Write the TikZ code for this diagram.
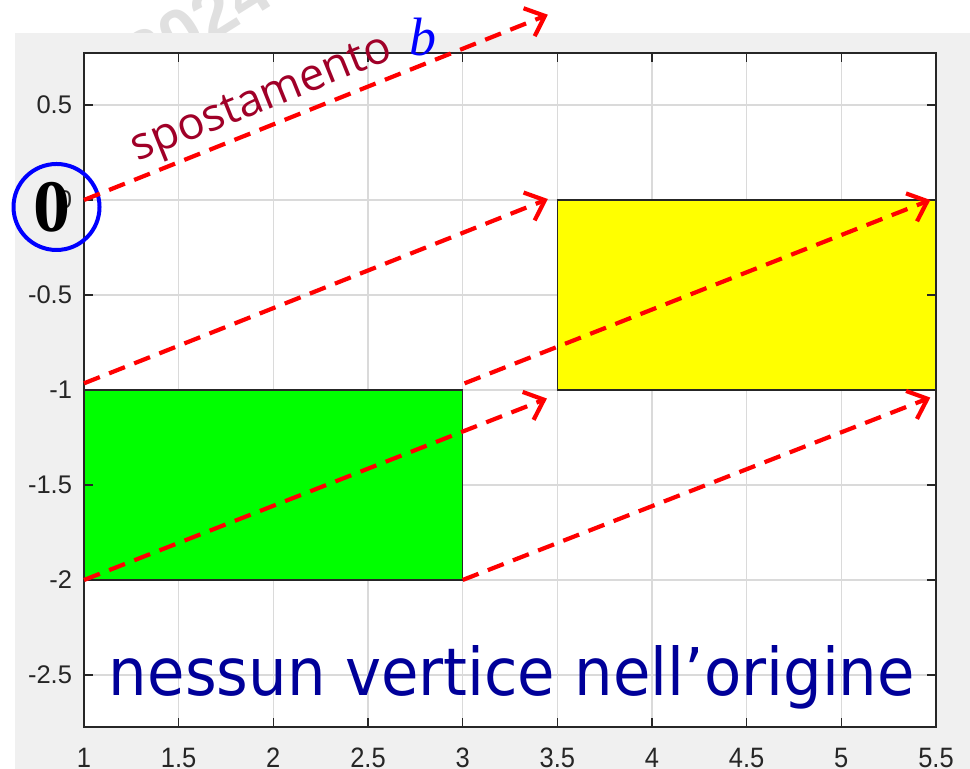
\documentclass[tikz,border=0pt]{standalone}
\usepackage{fontspec}
\usepackage{graphicx}
\usetikzlibrary{arrows.meta}
\newfontfamily\tickfont{Liberation Sans}
\newfontfamily\shiftfont{Open Sans}
\newfontfamily\notefont{DejaVu Sans}
\newfontfamily\zerofont{Liberation Serif}
\definecolor{figgray}{RGB}{240,240,240}
\definecolor{gridgray}{RGB}{218,218,218}
\definecolor{axisgray}{RGB}{38,38,38}
\definecolor{shiftred}{RGB}{160,0,40}
\definecolor{noteblue}{RGB}{0,0,153}
\definecolor{patchgreen}{RGB}{0,255,0}
\definecolor{patchyellow}{RGB}{255,255,0}

\begin{document}
\begin{tikzpicture}[
  x=189.33pt, y=190pt,
  every node/.style={inner sep=0pt, outer sep=0pt},
  ticklab/.style={font=\tickfont\fontsize{25.5}{25.5}\selectfont, text=axisgray},
  patch/.style={draw=black!85, line width=1.3pt},
  gridline/.style={draw=gridgray, line width=1.3pt},
  tickmark/.style={draw=axisgray, line width=1.3pt},
  shiftarrow/.style={draw=red, line width=4.2pt, dash pattern=on 17pt off 10pt, -{Straight Barb[length=17pt,width=30pt]}},
  >=Stealth
]
\useasboundingbox (0.5563,1.0526) rectangle (5.6797,-2.9947);

\node[text=black!12, rotate=32, font=\tickfont\bfseries\fontsize{70}{70}\selectfont] (mark) at (1.6,0.93) {2024};
\fill[figgray] (0.6356,0.8789) rectangle (5.6797,-2.9947);
\fill[white] (1,-2.7737) rectangle (5.5,0.7737);

\foreach \gx in {1.5,2,2.5,3,3.5,4,4.5,5}
  \draw[gridline] (\gx,-2.7737) -- (\gx,0.7737);
\foreach \gy in {0.5,0,-0.5,-1,-1.5,-2,-2.5}
  \draw[gridline] (1,\gy) -- (5.5,\gy);

\node[patch, fill=patchgreen, minimum width=378.66pt, minimum height=190pt] (green) at (2,-1.5) {};
\node[patch, fill=patchyellow, minimum width=378.66pt, minimum height=190pt] (yellow) at (4.5,-0.5) {};

\draw[tickmark] (1,-2.7737) rectangle (5.5,0.7737);
\foreach \xv [count=\k] in {1,1.5,2,2.5,3,3.5,4,4.5,5,5.5} {
  \draw[tickmark] (\xv,-2.7737) -- ++(0,9pt);
  \draw[tickmark] (\xv,0.7737) -- ++(0,-9pt);
  \node[ticklab, anchor=base] (xlab\k) at (\xv,-2.986) {\scalebox{1}[1.1]{\xv}};
}
\foreach \yv [count=\k] in {0.5,0,-0.5,-1,-1.5,-2,-2.5} {
  \draw[tickmark] (1,\yv) -- ++(9pt,0);
  \draw[tickmark] (5.5,\yv) -- ++(-9pt,0);
  \node[ticklab, anchor=east, xshift=-12pt] (ylab\k) at (1,\yv) {\yv};
}

\node[font=\zerofont\bfseries\fontsize{74}{74}\selectfont] (zero) at (0.831,-0.0368) {0};
\node[draw=blue, line width=4pt, circle, minimum size=86pt] (zeroring) at (0.8548,-0.0368) {};

\coordinate (orig) at (1,0);
\coordinate (b-start) at (1,-0.965);
\coordinate (d-start) at (3.01,-0.965);
\coordinate (a-end) at (3.45,0.975);
\coordinate (b-end) at (3.45,0.005);
\coordinate (c-end) at (3.445,-1.045);
\coordinate (d-end) at (5.47,0);
\coordinate (e-end) at (5.47,-1.04);

\draw[shiftarrow] (orig) -- (a-end);
\draw[shiftarrow] (b-start) -- (b-end);
\draw[shiftarrow] (green.south west) -- (c-end);
\draw[shiftarrow] (d-start) -- (d-end);
\draw[shiftarrow] (green.south east) -- (e-end);

\node[rotate=22, anchor=base west, font=\shiftfont\fontsize{45}{45}\selectfont, text=shiftred] (shiftlab) at (1.285,0.2) {spostamento};
\node[anchor=base, font=\zerofont\itshape\fontsize{54}{54}\selectfont, text=blue] (veclab) at (2.79,0.763) {b};

\node[anchor=base west, text=noteblue] (note) at (1.132,-2.6105) {\resizebox{806pt}{50pt}{\notefont\fontsize{66}{66}\selectfont nessun vertice nell’origine}};

\end{tikzpicture}
\end{document}
